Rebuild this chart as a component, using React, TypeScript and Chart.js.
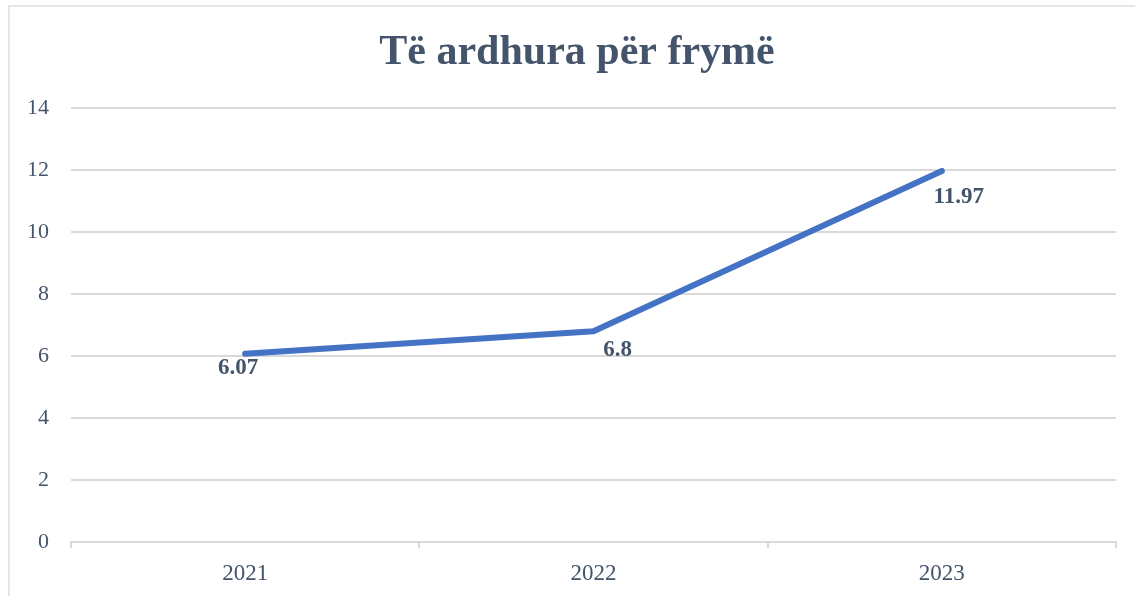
import React, { useEffect, useRef } from "react";
import { Chart, registerables } from "chart.js";

Chart.register(...registerables);

const categories = ["2021", "2022", "2023"];
const values = [6.07, 6.8, 11.97];
const valueLabels = ["6.07", "6.8", "11.97"];
const titleText = "Të ardhura për frymë";

const TEXT = "#44546A";
const GRID = "#D9D9D9";

export default function App() {
  const ref = useRef<HTMLCanvasElement | null>(null);

  useEffect(() => {
    document.body.style.margin = "0";
    const canvas = ref.current!;
    const labelOffsets = [
      { dx: -7, dy: 14 },
      { dx: 24, dy: 19 },
      { dx: 17, dy: 26 },
    ];
    const titlePlugin = {
      id: "titleDraw",
      afterDraw(chart: any) {
        const ctx = chart.ctx;
        ctx.save();
        ctx.font = "bold 42px 'Liberation Serif', 'Times New Roman', serif";
        ctx.fillStyle = TEXT;
        ctx.textAlign = "center";
        ctx.textBaseline = "middle";
        ctx.fillText(titleText, 577, 53);
        ctx.restore();
      },
    };
    const labelPlugin = {
      id: "dataLabels",
      afterDatasetsDraw(chart: any) {
        const ctx = chart.ctx;
        const meta = chart.getDatasetMeta(0);
        ctx.save();
        ctx.font = "bold 23px 'Liberation Serif', 'Times New Roman', serif";
        ctx.fillStyle = TEXT;
        ctx.textAlign = "center";
        ctx.textBaseline = "middle";
        meta.data.forEach((pt: any, i: number) => {
          const o = labelOffsets[i];
          ctx.fillText(valueLabels[i], pt.x + o.dx, pt.y + o.dy);
        });
        ctx.restore();
      },
    };
    const chart = new Chart(canvas, {
      type: "line",
      data: {
        labels: categories,
        datasets: [
          {
            data: values,
            borderColor: "#4472C4",
            borderWidth: 6,
            pointRadius: 0,
            borderCapStyle: "round",
            borderJoinStyle: "round",
            tension: 0,
          },
        ],
      },
      options: {
        animation: false,
        responsive: false,
        maintainAspectRatio: false,
        layout: { padding: { top: 108, right: 19, left: 0, bottom: 0 } },
        plugins: {
          legend: { display: false },
          title: { display: false },
          tooltip: { enabled: false },
        },
        scales: {
          x: {
            offset: true,
            grid: {
              offset: true,
              drawOnChartArea: false,
              drawTicks: true,
              tickLength: 6,
              color: GRID,
              lineWidth: 2,
            },
            border: { display: true, color: GRID, width: 2 },
            ticks: {
              color: TEXT,
              padding: 12,
              font: { family: "'Liberation Serif', 'Times New Roman', serif", size: 23 },
            },
            afterFit(scale: any) {
              scale.height = 54;
            },
          },
          y: {
            min: 0,
            max: 14,
            ticks: {
              stepSize: 2,
              color: TEXT,
              padding: 22,
              font: { family: "'Liberation Serif', 'Times New Roman', serif", size: 22 },
            },
            grid: { color: GRID, lineWidth: 2, drawTicks: false },
            border: { display: false },
            afterFit(scale: any) {
              scale.width = 71;
            },
          },
        },
      },
      plugins: [titlePlugin, labelPlugin],
    } as any);
    return () => chart.destroy();
  }, []);

  return (
    <div style={{ position: "relative", width: 1135, height: 596, overflow: "hidden", background: "#fff" }}>
      <div
        style={{
          position: "absolute",
          left: 8,
          top: 5,
          width: 1140,
          height: 610,
          border: "2px solid #E3E6EA",
          boxSizing: "border-box",
        }}
      />
      <canvas ref={ref} width={1135} height={596} style={{ position: "absolute", left: 0, top: 0, display: "block" }} />
    </div>
  );
}
